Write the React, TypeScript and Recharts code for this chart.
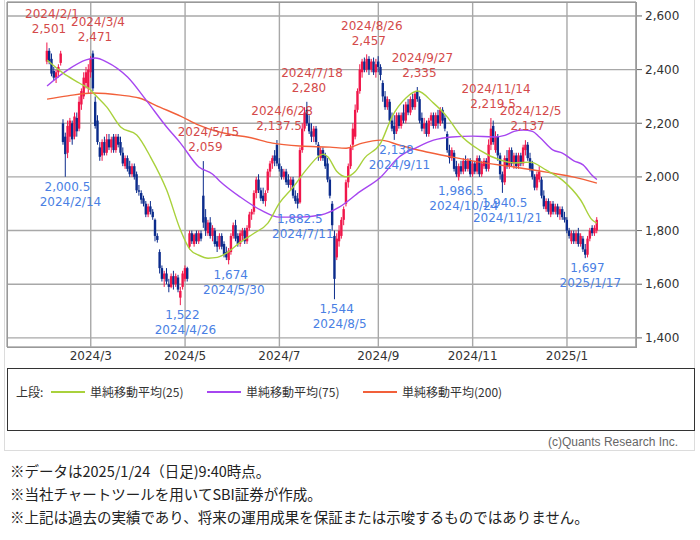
import React from "react";
import {
  ComposedChart,
  Bar,
  Line,
  XAxis,
  YAxis,
  CartesianGrid,
  ReferenceDot,
} from "recharts";

// ---- Daily candles, 2024/2/1 .. 2025/1/24 (trading-day index = array position)
const opens = [
  2430, 2470, 2440, 2395, 2370, 2390, 2425, 2200, 2150, 2090, 2150, 2200, 2150, 2220, 2180, 2270, 2300, 2350, 2330,
  2390, 2460, 2280, 2210, 2110, 2080, 2130, 2090, 2140, 2110, 2150, 2100, 2150, 2130, 2090, 2040, 2070, 2040, 2010, 2040,
  2010, 1950, 1940, 1920, 1900, 1860, 1890, 1870, 1840, 1780, 1720, 1660, 1620, 1640, 1600, 1590, 1630, 1600, 1625, 1550, 1590,
  1620, 1660, 1740, 1790, 1750, 1790, 1760, 1790, 1930, 1850, 1790, 1830, 1780, 1800, 1760, 1740, 1780, 1750, 1720, 1690, 1720,
  1780, 1820, 1780, 1750, 1780, 1800, 1760, 1810, 1860, 1870, 1940, 1990, 1950, 1930, 1910, 1950, 2020, 2050, 2080, 2120,
  2050, 2030, 2000, 2020, 1990, 1970, 1990, 1930, 1920, 1905, 2100, 2180, 2250, 2200, 2170, 2150, 2180, 2120, 2070, 2100, 2080, 2050,
  1990, 1900, 1780, 1700, 1760, 1780, 1840, 1900, 1980, 2040, 2120, 2150, 2250, 2320, 2390, 2430, 2400, 2440, 2400, 2430, 2390,
  2430, 2410, 2350, 2300, 2260, 2280, 2210, 2190, 2170, 2230, 2190, 2240, 2210, 2270, 2240, 2290, 2260, 2320, 2290,
  2220, 2180, 2200, 2160, 2210, 2230, 2190, 2230, 2200, 2250, 2220, 2160, 2100, 2070, 2090, 2040, 2000, 2040, 2020, 2060, 2030, 2060,
  2010, 2050, 2020, 2070, 2010, 2040, 2060, 2030, 2120, 2190, 2100, 2150, 2080, 2010, 1980, 2070, 2040, 2100, 2050, 2080,
  2040, 2080, 2050, 2100, 2120, 2070, 2050, 2000, 1960, 1990, 1990, 1930, 1880, 1910, 1860, 1900, 1870, 1890, 1860, 1880, 1850,
  1840, 1800, 1760, 1790, 1760, 1790, 1750, 1770, 1730, 1710, 1770, 1810, 1790, 1800,
];
const highs = [
  2501, 2480, 2460, 2410, 2400, 2420, 2470, 2215, 2165, 2210, 2220, 2210, 2240, 2240, 2300, 2330, 2390, 2410, 2420,
  2450, 2471, 2300, 2230, 2130, 2140, 2150, 2160, 2160, 2150, 2160, 2160, 2160, 2150, 2110, 2080, 2080, 2060, 2050, 2050,
  2020, 1970, 1950, 1930, 1910, 1900, 1910, 1880, 1845, 1790, 1730, 1670, 1650, 1660, 1620, 1640, 1650, 1640, 1635, 1590, 1650,
  1670, 1665, 1800, 1800, 1790, 1800, 1800, 1800, 2059, 1880, 1840, 1850, 1820, 1810, 1780, 1790, 1790, 1760, 1740, 1735, 1790,
  1830, 1840, 1790, 1800, 1810, 1810, 1820, 1870, 1880, 1950, 2000, 2010, 1960, 1960, 1950, 2030, 2060, 2080, 2100, 2137.5,
  2070, 2040, 2030, 2030, 2010, 2000, 2000, 1950, 1940, 2110, 2200, 2260, 2280, 2230, 2200, 2190, 2190, 2130, 2110, 2110, 2090, 2070,
  2000, 1910, 1800, 1790, 1820, 1850, 1890, 1990, 2050, 2120, 2200, 2270, 2330, 2420, 2440, 2445, 2457, 2450, 2440, 2445, 2440,
  2450, 2420, 2360, 2320, 2300, 2290, 2240, 2230, 2240, 2240, 2240, 2270, 2280, 2290, 2300, 2310, 2320, 2335, 2300,
  2240, 2220, 2210, 2220, 2240, 2240, 2240, 2250, 2260, 2260, 2230, 2170, 2120, 2110, 2100, 2060, 2050, 2060, 2070, 2080, 2070, 2070,
  2060, 2060, 2080, 2080, 2060, 2070, 2070, 2140, 2219.5, 2210, 2170, 2160, 2090, 2020, 2080, 2100, 2110, 2110, 2090, 2090,
  2090, 2090, 2120, 2137, 2130, 2090, 2060, 2010, 2020, 2040, 2000, 1950, 1920, 1920, 1910, 1910, 1900, 1900, 1890, 1890, 1870,
  1850, 1810, 1800, 1800, 1800, 1810, 1790, 1780, 1750, 1780, 1810, 1820, 1820, 1850,
];
const lows = [
  2420, 2420, 2375, 2360, 2350, 2370, 2415, 2120, 2000.5, 2070, 2130, 2120, 2140, 2150, 2170, 2250, 2290, 2330, 2310,
  2370, 2320, 2180, 2120, 2060, 2060, 2080, 2080, 2100, 2090, 2090, 2090, 2110, 2080, 2040, 2030, 2020, 2000, 2000, 1990,
  1940, 1930, 1900, 1890, 1850, 1850, 1860, 1840, 1760, 1755, 1640, 1610, 1590, 1600, 1570, 1585, 1580, 1590, 1570, 1522, 1580,
  1610, 1610, 1730, 1750, 1740, 1750, 1750, 1760, 1810, 1780, 1780, 1770, 1760, 1740, 1720, 1730, 1730, 1700, 1690, 1674, 1710,
  1770, 1760, 1740, 1740, 1760, 1750, 1750, 1800, 1840, 1860, 1920, 1940, 1910, 1900, 1890, 1940, 2000, 2030, 2040, 2040,
  2020, 1990, 1990, 1970, 1960, 1950, 1920, 1900, 1882.5, 1900, 2090, 2170, 2190, 2160, 2130, 2130, 2120, 2060, 2060, 2060, 2030, 1980,
  1920, 1800, 1544, 1690, 1740, 1770, 1820, 1890, 1960, 2030, 2100, 2140, 2240, 2310, 2370, 2390, 2390, 2380, 2390, 2380, 2370,
  2390, 2360, 2280, 2250, 2250, 2200, 2170, 2138, 2160, 2180, 2180, 2200, 2200, 2230, 2230, 2250, 2250, 2280, 2200,
  2170, 2160, 2150, 2150, 2190, 2180, 2180, 2180, 2190, 2200, 2170, 2090, 2050, 2060, 2020, 2000, 1986.5, 2010, 2010, 2020, 2020, 2000,
  2000, 2010, 2010, 2000, 2000, 2030, 2020, 2020, 2100, 2120, 2090, 2060, 1990, 1940.5, 1970, 2030, 2030, 2040, 2030, 2030,
  2030, 2040, 2040, 2080, 2060, 2020, 1990, 1950, 1950, 1980, 1920, 1880, 1870, 1860, 1850, 1860, 1860, 1850, 1840, 1840, 1830,
  1790, 1770, 1750, 1750, 1750, 1740, 1740, 1720, 1697, 1700, 1760, 1780, 1780, 1790,
];
const closes = [
  2470, 2430, 2385, 2370, 2390, 2410, 2460, 2130, 2085, 2190, 2210, 2140, 2225, 2170, 2280, 2320, 2370, 2390, 2400,
  2440, 2330, 2190, 2130, 2075, 2130, 2090, 2140, 2110, 2140, 2100, 2150, 2120, 2090, 2050, 2070, 2030, 2010, 2040, 2000,
  1950, 1945, 1915, 1900, 1860, 1890, 1870, 1850, 1780, 1765, 1660, 1620, 1640, 1610, 1590, 1630, 1600, 1630, 1580, 1575, 1640,
  1660, 1620, 1790, 1760, 1785, 1760, 1790, 1770, 1830, 1800, 1830, 1780, 1810, 1750, 1740, 1780, 1740, 1710, 1700, 1725, 1780,
  1820, 1770, 1750, 1790, 1800, 1760, 1810, 1860, 1870, 1940, 1990, 1950, 1920, 1910, 1940, 2020, 2050, 2070, 2060, 2050,
  2030, 2000, 2020, 1980, 1970, 1990, 1930, 1910, 1900, 2100, 2180, 2240, 2200, 2170, 2150, 2180, 2130, 2080, 2100, 2070, 2040, 1990,
  1930, 1820, 1620, 1770, 1800, 1840, 1880, 1980, 2040, 2110, 2180, 2250, 2320, 2400, 2430, 2400, 2440, 2400, 2430, 2390, 2420,
  2410, 2380, 2300, 2260, 2290, 2210, 2180, 2160, 2230, 2190, 2230, 2210, 2270, 2240, 2290, 2260, 2310, 2290, 2210,
  2180, 2200, 2160, 2210, 2230, 2190, 2230, 2200, 2250, 2210, 2180, 2100, 2070, 2100, 2030, 2010, 2040, 2020, 2060, 2030, 2060, 2010,
  2050, 2020, 2070, 2010, 2050, 2060, 2030, 2120, 2180, 2130, 2150, 2080, 2010, 1980, 2070, 2040, 2100, 2050, 2080, 2040,
  2080, 2050, 2110, 2120, 2070, 2030, 2000, 1960, 2010, 2020, 1930, 1890, 1910, 1870, 1900, 1870, 1890, 1860, 1880, 1850, 1840,
  1800, 1780, 1790, 1760, 1790, 1750, 1780, 1730, 1710, 1770, 1800, 1790, 1810, 1840,
];

// ---- Moving averages: [trading-day index, value]
const ma25 = [
  [0, 2436], [7, 2387], [14, 2350], [19, 2324], [21, 2305], [26, 2260], [32, 2186], [39, 2156], [45, 2074],
  [52, 1951], [58, 1802], [62, 1731], [66, 1708], [70, 1697], [74, 1700], [78, 1716], [84, 1757], [90, 1790],
  [96, 1828], [101, 1902], [107, 1962], [113, 2030], [120, 2085], [122, 2075], [126, 2020], [130, 2000],
  [134, 2020], [138, 2070], [145, 2126], [150, 2225], [156, 2294], [161, 2320], [168, 2275], [174, 2223],
  [179, 2163], [188, 2100], [197, 2063], [203, 2052], [210, 2055], [217, 2025], [224, 1988], [232, 1913],
  [237, 1839], [239, 1828],
];
const ma75 = [
  [0, 2339], [9, 2399], [17, 2436], [21, 2443], [26, 2428], [35, 2372], [43, 2287], [52, 2186], [58, 2126],
  [66, 2037], [72, 2010], [75, 1985], [84, 1925], [93, 1876], [101, 1850], [110, 1850], [119, 1858], [127, 1887],
  [136, 1945], [145, 1999], [153, 2074], [161, 2111], [168, 2137], [176, 2149], [185, 2152], [194, 2149],
  [199, 2155], [203, 2170], [207, 2175], [211, 2170], [214, 2149], [220, 2100], [224, 2089], [229, 2060],
  [233, 2045], [237, 2005], [239, 1990],
];
const ma200 = [
  [0, 2290], [9, 2302], [20, 2313], [32, 2305], [40, 2294], [49, 2260], [58, 2227], [66, 2193], [81, 2156],
  [87, 2149], [98, 2126], [110, 2115], [123, 2111], [130, 2107], [137, 2126], [145, 2137], [153, 2119],
  [165, 2093], [176, 2074], [188, 2055], [203, 2037], [217, 2018], [229, 1999], [239, 1977],
];

// ---- Axis ticks
const monthTickIdx = [19, 60, 101, 144, 185, 226];
const monthTickLabels = ["2024/3", "2024/5", "2024/7", "2024/9", "2024/11", "2025/1"];
const priceTicks = [1400, 1600, 1800, 2000, 2200, 2400, 2600];

// ---- High / low annotations
const highMarks = [
  { i: 0, v: 2501, date: "2024/2/1", text: "2,501" },
  { i: 20, v: 2471, date: "2024/3/4", text: "2,471" },
  { i: 68, v: 2059, date: "2024/5/15", text: "2,059" },
  { i: 100, v: 2137.5, date: "2024/6/28", text: "2,137.5" },
  { i: 113, v: 2280, date: "2024/7/18", text: "2,280" },
  { i: 139, v: 2457, date: "2024/8/26", text: "2,457" },
  { i: 161, v: 2335, date: "2024/9/27", text: "2,335" },
  { i: 193, v: 2219.5, date: "2024/11/14", text: "2,219.5" },
  { i: 208, v: 2137, date: "2024/12/5", text: "2,137" },
];
const lowMarks = [
  { i: 8, v: 2000.5, date: "2024/2/14", text: "2,000.5" },
  { i: 58, v: 1522, date: "2024/4/26", text: "1,522" },
  { i: 79, v: 1674, date: "2024/5/30", text: "1,674" },
  { i: 109, v: 1882.5, date: "2024/7/11", text: "1,882.5" },
  { i: 125, v: 1544, date: "2024/8/5", text: "1,544" },
  { i: 151, v: 2138, date: "2024/9/11", text: "2,138" },
  { i: 179, v: 1986.5, date: "2024/10/24", text: "1,986.5" },
  { i: 198, v: 1940.5, date: "2024/11/21", text: "1,940.5" },
  { i: 234, v: 1697, date: "2025/1/17", text: "1,697" },
];

const legendItems = [
  { name: "単純移動平均(25)", color: "#a9d13c" },
  { name: "単純移動平均(75)", color: "#a646f0" },
  { name: "単純移動平均(200)", color: "#f2603a" },
];
const footnotes = [
  "※データは2025/1/24（日足)9:40時点。",
  "※当社チャートツールを用いてSBI証券が作成。",
  "※上記は過去の実績であり、将来の運用成果を保証または示唆するものではありません。",
];

const RED = "#f0164a";
const NAVY = "#0c2c8c";
const C25 = "#a9d13c";
const C75 = "#a646f0";
const C200 = "#f2603a";

const toMap = (arr: number[][]) => {
  const m: Record<number, number> = {};
  arr.forEach(([i, v]) => (m[i] = v));
  return m;
};
const m25 = toMap(ma25);
const m75 = toMap(ma75);
const m200 = toMap(ma200);

const data = opens.map((o, i) => ({
  i,
  o,
  h: highs[i],
  l: lows[i],
  c: closes[i],
  range: [lows[i], highs[i]],
  ma25: m25[i],
  ma75: m75[i],
  ma200: m200[i],
}));

const Candle = (props: any) => {
  const { x, y, width, height, payload } = props;
  if (x == null || y == null || !payload) return null;
  const cx = x + width / 2;
  const { o, h, l, c } = payload;
  const color = c >= o ? RED : NAVY;
  const k = h - l === 0 ? 0 : height / (h - l);
  const yO = y + (h - o) * k;
  const yC = y + (h - c) * k;
  const top = Math.min(yO, yC);
  const bh = Math.max(1, Math.abs(yC - yO));
  return (
    <g>
      <line x1={cx} x2={cx} y1={y} y2={y + height} stroke={color} strokeWidth={1} />
      <rect x={cx - 1.2} y={top} width={2.4} height={bh} fill={color} />
    </g>
  );
};

const HighLabel = ({ cx, cy, date, text }: any) => (
  <g fontFamily="DejaVu Sans" fontSize={12} fill="#d44a4a" textAnchor="middle">
    <text x={cx + 5} y={cy - 29} dy="0.35em">{date}</text>
    <text x={cx + 2} y={cy - 14} dy="0.35em">{text}</text>
  </g>
);
const LowLabel = ({ cx, cy, date, text }: any) => (
  <g fontFamily="DejaVu Sans" fontSize={12} fill="#4a7fe4" textAnchor="middle">
    <text x={cx + 2} y={cy + 10} dy="0.35em">{text}</text>
    <text x={cx + 5} y={cy + 25} dy="0.35em">{date}</text>
  </g>
);

export default function App() {
  return (
    <div
      style={{
        position: "absolute",
        left: 0,
        top: 0,
        width: 700,
        height: 540,
        background: "#fff",
        fontFamily: "DejaVu Sans",
      }}
    >
      {/* outer panel */}
      <div
        style={{
          position: "absolute",
          left: 4,
          top: -1,
          width: 691,
          height: 452,
          border: "1px solid #dcdcdc",
          boxSizing: "border-box",
        }}
      />
      <div style={{ position: "absolute", left: 0, top: 0 }}>
        <ComposedChart
          width={700}
          height={365}
          data={data}
          margin={{ top: 2, right: 8, bottom: 0, left: 7 }}
        >
          <CartesianGrid stroke="#a8a8a8" strokeWidth={1.4} />
          <XAxis
            dataKey="i"
            type="number"
            domain={[-17.4, 256]}
            allowDataOverflow
            ticks={monthTickIdx}
            tickFormatter={(v: number) => monthTickLabels[monthTickIdx.indexOf(v)] ?? ""}
            tickLine={false}
            axisLine={false}
            tickSize={0}
            tickMargin={4}
            height={18}
            tick={{ fontSize: 12, fill: "#333", fontFamily: "DejaVu Sans" }}
          />
          <YAxis
            orientation="right"
            type="number"
            domain={[1366, 2652]}
            allowDataOverflow
            ticks={priceTicks}
            width={56}
            tickSize={6}
            tickMargin={3}
            tickFormatter={(v: number) => v.toLocaleString("en-US")}
            axisLine={{ stroke: "#999" }}
            tickLine={{ stroke: "#666" }}
            tick={{ fontSize: 12, fill: "#333", fontFamily: "DejaVu Sans" }}
          />
          <Line dataKey="ma200" type="monotone" stroke={C200} strokeWidth={1.4} dot={false} connectNulls isAnimationActive={false} />
          <Line dataKey="ma75" type="monotone" stroke={C75} strokeWidth={1.4} dot={false} connectNulls isAnimationActive={false} />
          <Line dataKey="ma25" type="monotone" stroke={C25} strokeWidth={1.4} dot={false} connectNulls isAnimationActive={false} />
          <Bar dataKey="range" barSize={2} shape={<Candle />} isAnimationActive={false} />
          {highMarks.map((m) => (
            <ReferenceDot
              key={"h" + m.i}
              x={m.i}
              y={m.v}
              r={0}
              ifOverflow="visible"
              shape={(p: any) => <HighLabel cx={p.cx} cy={p.cy} date={m.date} text={m.text} />}
            />
          ))}
          {lowMarks.map((m) => (
            <ReferenceDot
              key={"l" + m.i}
              x={m.i}
              y={m.v}
              r={0}
              ifOverflow="visible"
              shape={(p: any) => <LowLabel cx={p.cx} cy={p.cy} date={m.date} text={m.text} />}
            />
          ))}
        </ComposedChart>
      </div>
      {/* plot frame */}
      <div
        style={{
          position: "absolute",
          left: 7,
          top: 2,
          width: 630,
          height: 346,
          border: "1px solid #999",
          boxSizing: "border-box",
          pointerEvents: "none",
        }}
      />
      {/* legend box */}
      <div
        style={{
          position: "absolute",
          left: 7,
          top: 368,
          width: 688,
          height: 63,
          border: "1px solid #333",
          boxSizing: "border-box",
          fontFamily: "Noto Sans CJK JP",
          fontSize: 12,
          color: "#333",
        }}
      >
        <div style={{ position: "absolute", left: 8, top: 14, lineHeight: "17px" }}>上段:</div>
        {legendItems.map((it, k) => (
          <div
            key={it.name}
            style={{
              position: "absolute",
              left: 43 + k * 156,
              top: 14,
              lineHeight: "17px",
              display: "flex",
              alignItems: "center",
              whiteSpace: "nowrap",
            }}
          >
            <span style={{ display: "inline-block", width: 34, height: 2, background: it.color, marginRight: 5 }} />
            <span>{it.name}</span>
          </div>
        ))}
      </div>
      <div
        style={{
          position: "absolute",
          right: 22,
          top: 435,
          fontFamily: "Liberation Sans Narrow, Liberation Sans",
          fontSize: 12,
          color: "#666",
        }}
      >
        (c)Quants Research Inc.
      </div>
      <div
        style={{
          position: "absolute",
          left: 10,
          top: 459,
          fontFamily: "Noto Sans CJK JP",
          fontSize: 14.5,
          color: "#222",
          lineHeight: "23px",
        }}
      >
        {footnotes.map((t) => (
          <div key={t}>{t}</div>
        ))}
      </div>
    </div>
  );
}
